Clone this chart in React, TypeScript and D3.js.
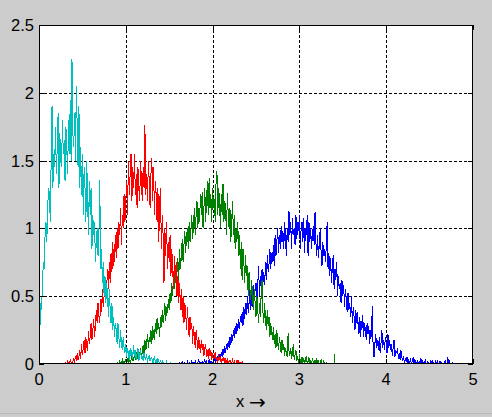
import React from "react";
import * as d3 from "d3";

// Tick values
const xTicks = [0, 1, 2, 3, 4, 5];
const yTicks = [0, 0.5, 1, 1.5, 2, 2.5];
const xTickLabels = ["0", "1", "2", "3", "4", "5"];
const yTickLabels = ["0", "0.5", "1", "1.5", "2", "2.5"];

// bin width of every series
const step = 0.01;

// Series: blue (first bin x = 1.60)
const blueStart = 1.6;
const blueValues = [
  0.0, 0.0, 0.01, 0.0, 0.0, 0.02, 0.0, 0.0, 0.01, 0.0,
  0.0, 0.02, 0.0, 0.01, 0.0, 0.0, 0.02, 0.0, 0.01, 0.0,
  0.02, 0.0, 0.0, 0.01, 0.03, 0.0, 0.01, 0.0, 0.02, 0.0,
  0.01, 0.03, 0.0, 0.02, 0.0, 0.01, 0.03, 0.0, 0.02, 0.01,
  0.0, 0.03, 0.05, 0.01, 0.04, 0.02, 0.06, 0.03, 0.07, 0.04,
  0.09, 0.05, 0.11, 0.07, 0.13, 0.08, 0.15, 0.1, 0.17, 0.12,
  0.2, 0.14, 0.22, 0.17, 0.25, 0.19, 0.28, 0.22, 0.3, 0.24,
  0.33, 0.26, 0.35, 0.3, 0.38, 0.28, 0.42, 0.33, 0.45, 0.36,
  0.5, 0.38, 0.45, 0.55, 0.4, 0.52, 0.42, 0.58, 0.48, 0.55,
  0.6, 0.45, 0.58, 0.72, 0.5, 0.65, 0.55, 0.7, 0.6, 0.68,
  0.58, 0.75, 0.62, 0.8, 0.68, 0.74, 0.85, 0.7, 0.82, 0.75,
  0.88, 0.72, 0.95, 0.8, 0.9, 1.0, 0.82, 0.95, 0.85, 1.02,
  0.9, 0.98, 0.85, 1.05, 0.92, 0.8, 1.0, 0.9, 1.13, 0.95,
  1.05, 0.85, 1.08, 0.95, 1.0, 0.88, 1.1, 0.92, 1.05, 0.98,
  1.1, 0.85, 1.0, 1.05, 0.9, 1.08, 0.82, 1.0, 0.95, 1.1,
  0.8, 1.05, 0.9, 1.0, 0.85, 0.95, 1.02, 0.88, 1.12, 0.9,
  0.8, 0.95, 0.78, 0.9, 1.0, 0.82, 0.72, 0.9, 0.8, 0.85,
  0.75, 0.88, 1.05, 0.7, 0.82, 0.65, 0.78, 0.6, 0.72, 0.8,
  0.55, 0.7, 0.62, 0.75, 0.5, 0.65, 0.55, 0.6, 0.45, 0.62,
  0.5, 0.58, 0.42, 0.55, 0.48, 0.38, 0.52, 0.4, 0.45, 0.35,
  0.5, 0.3, 0.42, 0.35, 0.25, 0.4, 0.3, 0.38, 0.22, 0.35,
  0.2, 0.32, 0.25, 0.36, 0.2, 0.3, 0.25, 0.18, 0.3, 0.22,
  0.28, 0.15, 0.25, 0.2, 0.43, 0.1, 0.05, 0.15, 0.22, 0.12,
  0.18, 0.1, 0.2, 0.08, 0.15, 0.25, 0.12, 0.18, 0.1, 0.2,
  0.15, 0.08, 0.22, 0.12, 0.18, 0.1, 0.15, 0.06, 0.12, 0.18,
  0.05, 0.1, 0.08, 0.12, 0.04, 0.08, 0.03, 0.1, 0.05, 0.02,
  0.06, 0.0, 0.04, 0.02, 0.05, 0.0, 0.03, 0.01, 0.04, 0.0,
  0.02, 0.05, 0.0, 0.03, 0.01, 0.0, 0.03, 0.0, 0.02, 0.0,
  0.04, 0.0, 0.02, 0.0, 0.01, 0.03, 0.0, 0.0, 0.02, 0.0,
  0.0, 0.02, 0.0, 0.03, 0.0, 0.01, 0.0, 0.02, 0.0, 0.03,
  0.0, 0.0, 0.02, 0.0, 0.01, 0.0, 0.0, 0.0, 0.03, 0.0,
  0.0, 0.05, 0.0, 0.02, 0.0, 0.0, 0.01, 0.0, 0.0,
];

// Series: green (first bin x = 0.90)
const greenStart = 0.9;
const greenValues = [
  0.0, 0.01, 0.0, 0.02, 0.0, 0.01, 0.03, 0.0, 0.02, 0.01,
  0.03, 0.0, 0.04, 0.02, 0.05, 0.01, 0.03, 0.06, 0.02, 0.04,
  0.07, 0.03, 0.05, 0.09, 0.04, 0.1, 0.06, 0.12, 0.05, 0.09,
  0.14, 0.08, 0.18, 0.1, 0.15, 0.22, 0.12, 0.2, 0.16, 0.25,
  0.15, 0.28, 0.2, 0.18, 0.3, 0.22, 0.34, 0.25, 0.3, 0.2,
  0.35, 0.27, 0.4, 0.3, 0.36, 0.45, 0.32, 0.42, 0.38, 0.48,
  0.4, 0.52, 0.45, 0.6, 0.5, 0.65, 0.55, 0.7, 0.6, 0.68,
  0.78, 0.62, 0.85, 0.7, 0.8, 0.92, 0.75, 0.88, 0.98, 0.82,
  0.95, 1.0, 0.85, 1.05, 0.9, 0.98, 1.1, 0.92, 1.02, 1.15,
  0.95, 1.1, 1.2, 1.0, 1.15, 1.05, 1.25, 1.1, 1.27, 1.0,
  1.15, 1.3, 1.05, 1.2, 1.35, 1.1, 1.37, 1.15, 1.25, 1.05,
  1.3, 1.15, 1.22, 1.05, 1.35, 1.42, 1.1, 1.3, 1.2, 1.0,
  1.25, 1.1, 1.33, 1.05, 1.2, 1.15, 0.95, 1.26, 1.1, 1.0,
  1.15, 0.9, 1.05, 1.2, 0.95, 1.1, 0.85, 1.0, 0.9, 1.05,
  0.8, 0.95, 0.7, 0.9, 0.62, 0.85, 0.75, 0.6, 0.8, 0.65,
  0.72, 0.5, 0.68, 0.55, 0.47, 0.62, 0.5, 0.4, 0.55, 0.45,
  0.35, 0.5, 0.4, 0.3, 0.45, 0.35, 0.52, 0.62, 0.38, 0.3,
  0.45, 0.32, 0.25, 0.4, 0.28, 0.35, 0.2, 0.3, 0.24, 0.18,
  0.27, 0.15, 0.22, 0.12, 0.25, 0.15, 0.1, 0.2, 0.14, 0.08,
  0.18, 0.1, 0.15, 0.06, 0.12, 0.08, 0.05, 0.23, 0.1, 0.06,
  0.12, 0.04, 0.08, 0.15, 0.03, 0.07, 0.1, 0.02, 0.06, 0.0,
  0.07, 0.02, 0.0, 0.05, 0.01, 0.04, 0.0, 0.03, 0.06, 0.0,
  0.02, 0.05, 0.0, 0.03, 0.0, 0.04, 0.01, 0.0, 0.03, 0.0,
  0.04, 0.0, 0.02, 0.0, 0.01, 0.03, 0.0, 0.0, 0.02, 0.0,
  0.0, 0.01, 0.0, 0.0, 0.0, 0.0, 0.0, 0.0, 0.0, 0.0, 0.0, 0.07,
];

// Series: red (first bin x = 0.30)
const redStart = 0.3;
const redValues = [
  0.0, 0.01, 0.0, 0.02, 0.0, 0.0, 0.03, 0.01, 0.0, 0.02,
  0.04, 0.01, 0.06, 0.02, 0.08, 0.03, 0.05, 0.1, 0.04, 0.15,
  0.07, 0.12, 0.18, 0.08, 0.2, 0.13, 0.1, 0.24, 0.15, 0.2,
  0.3, 0.18, 0.25, 0.33, 0.2, 0.28, 0.4, 0.3, 0.45, 0.35,
  0.3, 0.48, 0.38, 0.55, 0.42, 0.5, 0.62, 0.45, 0.58, 0.7,
  0.55, 0.75, 0.6, 0.82, 0.68, 0.9, 0.72, 0.8, 0.95, 0.78,
  1.0, 0.85, 1.05, 0.95, 1.15, 0.88, 1.1, 1.0, 1.25, 1.05,
  1.2, 1.35, 1.1, 1.5, 1.25, 1.4, 1.55, 1.2, 1.45, 1.3,
  1.55, 1.25, 1.4, 1.15, 1.45, 1.3, 1.2, 1.5, 1.35, 1.2,
  1.45, 1.3, 1.76, 1.25, 1.4, 1.2, 1.5, 1.35, 1.15, 1.4,
  1.52, 1.2, 1.45, 1.1, 1.35, 1.25, 1.05, 1.3, 0.9, 1.2,
  1.3, 0.85, 1.1, 0.95, 0.6, 1.0, 0.8, 1.05, 0.7, 0.9,
  0.75, 0.95, 0.65, 0.85, 0.7, 0.55, 0.8, 0.6, 0.75, 0.5,
  0.65, 0.45, 0.6, 0.4, 0.55, 0.35, 0.5, 0.3, 0.45, 0.38,
  0.25, 0.42, 0.3, 0.2, 0.35, 0.25, 0.3, 0.15, 0.28, 0.2,
  0.12, 0.25, 0.18, 0.1, 0.2, 0.14, 0.08, 0.18, 0.1, 0.15,
  0.06, 0.12, 0.15, 0.05, 0.1, 0.04, 0.12, 0.06, 0.1, 0.03,
  0.08, 0.02, 0.06, 0.09, 0.03, 0.05, 0.01, 0.07, 0.03, 0.05,
  0.0, 0.04, 0.02, 0.05, 0.0, 0.03, 0.01, 0.04, 0.0, 0.02,
  0.03, 0.0, 0.01, 0.03, 0.0, 0.02, 0.0, 0.01, 0.03, 0.0,
  0.02, 0.0, 0.01, 0.0, 0.02, 0.0, 0.0,
];

// Series: cyan (first bin x = 0.00)
const cyanStart = 0.0;
const cyanValues = [
  0.1, 0.25, 0.45, 0.4, 0.6, 0.75, 0.7, 0.95, 1.05, 0.9,
  1.15, 1.3, 1.25, 1.05, 1.5, 1.9, 1.3, 1.55, 1.45, 1.75,
  1.4, 1.6, 1.85, 1.3, 1.7, 1.5, 1.45, 1.8, 1.55, 1.65,
  1.35, 1.75, 1.6, 1.4, 1.8, 1.55, 1.95, 1.5, 2.25, 1.7,
  1.6, 1.85, 1.5, 2.05, 1.75, 1.45, 1.9, 1.3, 1.6, 1.25,
  1.55, 1.1, 1.45, 1.3, 1.05, 1.5, 1.2, 0.95, 1.35, 1.1,
  1.3, 0.85, 1.1, 0.95, 1.05, 0.75, 0.9, 1.0, 0.8, 0.95,
  1.36, 0.7, 0.85, 0.6, 0.75, 0.5, 0.65, 0.45, 0.6, 0.5,
  0.35, 0.55, 0.4, 0.3, 0.45, 0.25, 0.35, 0.2, 0.3, 0.25,
  0.15, 0.3, 0.2, 0.12, 0.25, 0.15, 0.1, 0.2, 0.12, 0.08,
  0.15, 0.05, 0.12, 0.08, 0.03, 0.12, 0.06, 0.1, 0.04, 0.14,
  0.06, 0.1, 0.03, 0.08, 0.12, 0.02, 0.07, 0.1, 0.04, 0.06,
  0.02, 0.08, 0.05, 0.03, 0.07, 0.01, 0.05, 0.06, 0.02, 0.04,
  0.05, 0.0, 0.03, 0.06, 0.01, 0.03, 0.0, 0.04, 0.02, 0.0,
  0.03, 0.0, 0.02, 0.0, 0.01, 0.0, 0.0, 0.02, 0.0, 0.0,
  0.0, 0.0, 0.01, 0.0, 0.0, 0.0, 0.0, 0.0, 0.0, 0.0, 0.0,
];

const seriesList = [
  { name: "blue", start: blueStart, values: blueValues, color: "#0000ff" },
  { name: "green", start: greenStart, values: greenValues, color: "#008000" },
  { name: "red", start: redStart, values: redValues, color: "#ff0000" },
  { name: "cyan", start: cyanStart, values: cyanValues, color: "#00bfbf" },
];

const W = 492;
const H = 417;
const L = 39;
const R = 473;
const T = 25;
const B = 364;

export default function App() {
  const x = d3.scaleLinear().domain([0, 5]).range([L, R]);
  const y = d3.scaleLinear().domain([0, 2.5]).range([B, T]);
  const line = d3
    .line<[number, number]>()
    .x((d) => x(d[0]))
    .y((d) => y(d[1]));
  const font = "'Liberation Sans', Arial, sans-serif";
  const tickLen = 5;

  return (
    <svg
      width={W}
      height={H}
      style={{ position: "fixed", left: 0, top: 0, display: "block" }}
    >
      <rect x={0} y={0} width={W} height={H} fill="#cccccc" />
      <line x1={0} x2={W} y1={413.5} y2={413.5} stroke="#b8b8b8" strokeWidth={1} />
      <rect x={L} y={T} width={R - L} height={B - T} fill="#ffffff" />
      <defs>
        <clipPath id="plotClip">
          <rect x={L} y={T} width={R - L} height={B - T} />
        </clipPath>
      </defs>
      {/* grid */}
      <g stroke="#000" strokeWidth={1} strokeDasharray="3,2" shapeRendering="crispEdges">
        {xTicks.slice(1, -1).map((t) => (
          <line key={"gx" + t} x1={Math.round(x(t)) + 0.5} x2={Math.round(x(t)) + 0.5} y1={T} y2={B} />
        ))}
        {yTicks.slice(1, -1).map((t) => (
          <line key={"gy" + t} x1={L} x2={R} y1={Math.round(y(t)) + 0.5} y2={Math.round(y(t)) + 0.5} />
        ))}
      </g>
      {/* series */}
      <g clipPath="url(#plotClip)" fill="none" strokeWidth={1} shapeRendering="crispEdges">
        {seriesList.map((s) => {
          const pts: [number, number][] = s.values.map((v, i) => [s.start + i * step, v]);
          return <path key={s.name} d={line(pts) || ""} stroke={s.color} />;
        })}
      </g>
      {/* ticks */}
      <g stroke="#000" strokeWidth={1} shapeRendering="crispEdges">
        {xTicks.map((t) => (
          <g key={"tx" + t}>
            <line x1={Math.round(x(t)) + 0.5} x2={Math.round(x(t)) + 0.5} y1={B} y2={B - tickLen} />
            <line x1={Math.round(x(t)) + 0.5} x2={Math.round(x(t)) + 0.5} y1={T} y2={T + tickLen} />
          </g>
        ))}
        {yTicks.map((t) => (
          <g key={"ty" + t}>
            <line x1={L} x2={L + tickLen} y1={Math.round(y(t)) + 0.5} y2={Math.round(y(t)) + 0.5} />
            <line x1={R} x2={R - tickLen} y1={Math.round(y(t)) + 0.5} y2={Math.round(y(t)) + 0.5} />
          </g>
        ))}
      </g>
      <rect
        x={L + 0.5}
        y={T + 0.5}
        width={R - L - 1}
        height={B - T - 1}
        fill="none"
        stroke="#000"
        strokeWidth={1}
        shapeRendering="crispEdges"
      />
      {/* tick labels */}
      <g fontFamily={font} fontSize={16.5} fill="#000">
        {xTicks.map((t, i) => (
          <text key={"lx" + t} x={x(t)} y={385} textAnchor="middle">
            {xTickLabels[i]}
          </text>
        ))}
        {yTicks.map((t, i) => (
          <text key={"ly" + t} x={34} y={y(t) + 6} textAnchor="end">
            {yTickLabels[i]}
          </text>
        ))}
      </g>
      {/* x label */}
      <text x={236} y={407} fontFamily={font} fontSize={16.5} fill="#000">
        x
      </text>
      <text x={249} y={408.5} fontFamily="'DejaVu Sans', sans-serif" fontSize={20} fill="#000">
        →
      </text>
    </svg>
  );
}
